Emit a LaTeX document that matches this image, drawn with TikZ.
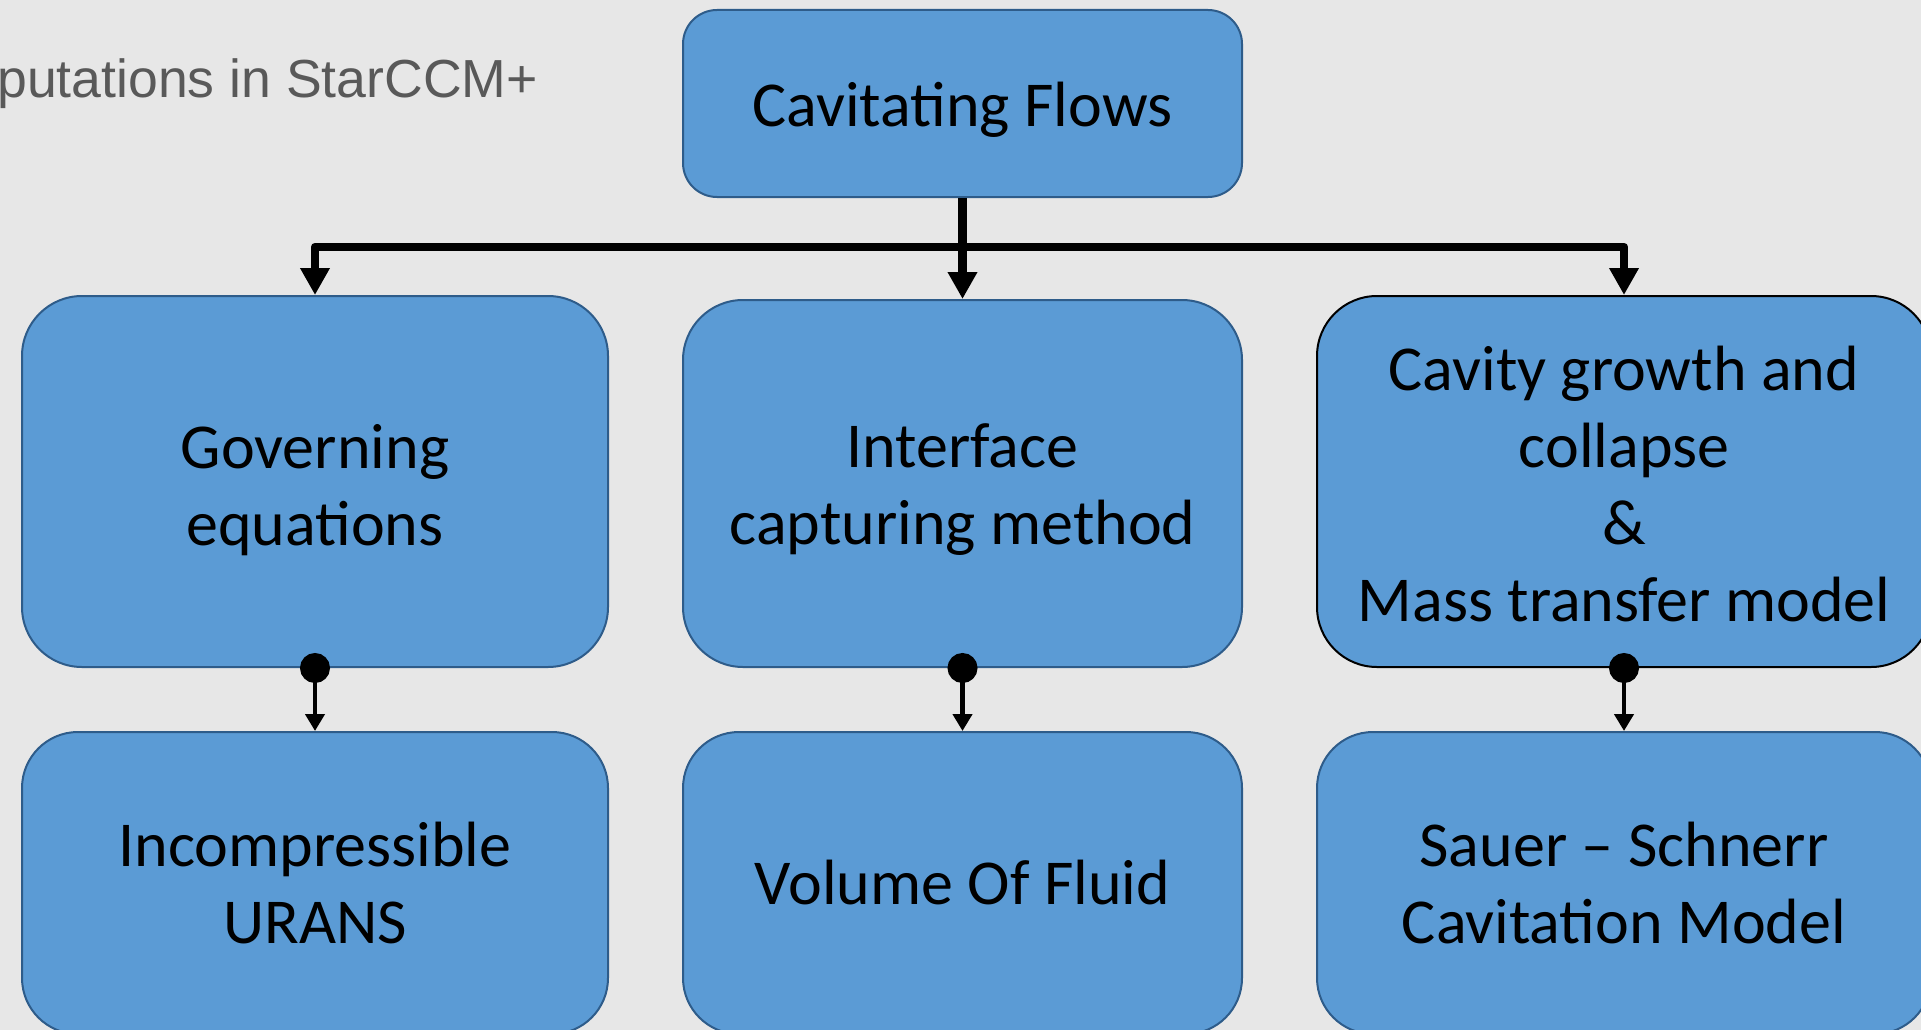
\documentclass[tikz,border=0pt]{standalone}
\usepackage{fontspec}
\setmainfont{Carlito}
\newfontfamily\captionfont{Liberation Sans}
\usetikzlibrary{arrows.meta}
\definecolor{bg}{HTML}{E7E7E7}
\definecolor{boxfill}{HTML}{5B9BD5}
\definecolor{boxline}{HTML}{2E5C8A}
\definecolor{captiongray}{HTML}{595959}
% extra room above the first line, so the text sits a little lower in its box
\newcommand\padtop[2]{\raisebox{0pt}[\dimexpr\height+#1\relax]{#2}}
\tikzset{
  bigtip/.tip={Triangle[width=28pt,length=27pt]},
  smalltip/.tip={Triangle[width=19pt,length=17pt]},
  dottip/.tip={Circle[width=30pt,length=30pt]},
  blockbox/.style={draw=boxline, line width=2pt, fill=boxfill,
    rounded corners=#1, inner sep=0pt, align=center,
    font=\fontsize{64}{77}\selectfont},
  blockbox/.default=60pt,
  bus/.style={line width=8.5pt, line join=round},
  sub/.style={line width=4.5pt, shorten <=-15pt, arrows={dottip-smalltip}},
}
\begin{document}
\begin{tikzpicture}[x=1pt,y=-1pt]
  \useasboundingbox (0,0) rectangle (1921,1030);
  \clip (0,0) rectangle (1921,1030);
  \fill[bg] (0,0) rectangle (1921,1030);

  % caption fragment at the upper left
  \node[anchor=base west, inner sep=0pt, text=captiongray,
        font=\captionfont\fontsize{53.6}{60}\selectfont] (caption) at (-3,98)
        {putations in StarCCM+};

  % root
  \node[blockbox=34pt, minimum width=559pt, minimum height=187pt] (top)
        at (962.5,103.5) {\padtop{12pt}{Cavitating Flows}};

  % second row
  \node[blockbox, minimum width=586pt, minimum height=371pt] (gov)
        at (315,481.5) {\padtop{17pt}{Governing}\\equations};
  \node[blockbox, minimum width=559pt, minimum height=367pt] (iface)
        at (962.5,483.5) {\padtop{13pt}{Interface}\\capturing method};
  \node[blockbox, draw=black, minimum width=614pt, minimum height=371pt] (mech)
        at (1624,481.5) {\padtop{5pt}{Cavity growth and}\\collapse\\\&\\Mass transfer model};

  % third row
  \node[blockbox=56pt, minimum width=586pt, minimum height=302pt] (inc)
        at (315,883) {Incompressible\\URANS};
  \node[blockbox=56pt, minimum width=559pt, minimum height=302pt] (vof)
        at (962.5,883) {Volume Of Fluid};
  \node[blockbox=56pt, minimum width=614pt, minimum height=302pt] (ss)
        at (1624,883) {Sauer -- Schnerr\\Cavitation Model};

  % distribution bus from the root
  \coordinate (busy) at (0,247);
  \draw[bus, -bigtip] (top.south) -- (iface.north);
  \draw[bus, bigtip-bigtip] (gov.north) -- (gov.north |- busy)
        -- (mech.north |- busy) -- (mech.north);

  % links to the chosen models
  \draw[sub] (gov.south) -- (inc.north);
  \draw[sub] (iface.south) -- (vof.north);
  \draw[sub] (mech.south) -- (ss.north);
\end{tikzpicture}
\end{document}
